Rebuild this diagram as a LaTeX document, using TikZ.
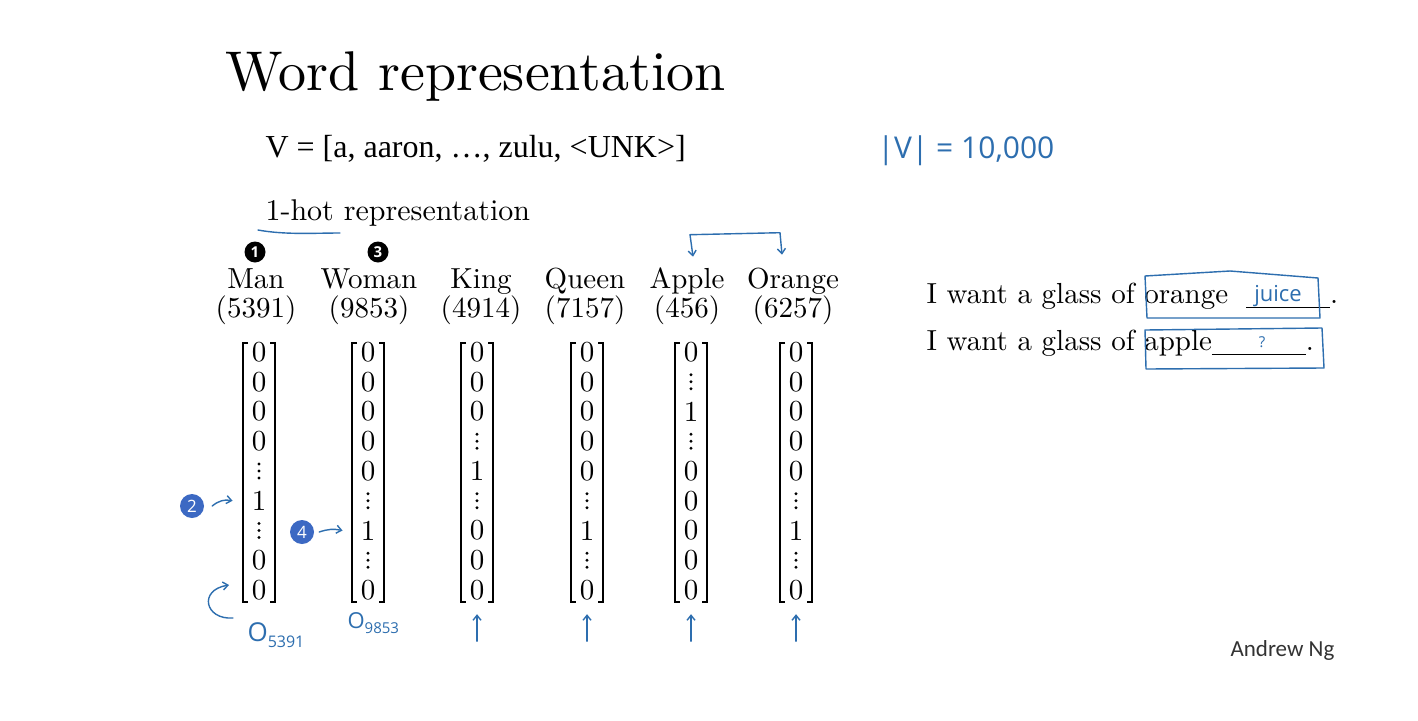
\documentclass[tikz,border=0pt]{standalone}
\usepackage{fontspec}
\setmainfont{lmroman10-regular}[Extension=.otf, BoldFont=lmroman10-bold, ItalicFont=lmroman10-italic]
\newfontfamily\timesfont{Liberation Serif}
\newfontfamily\handfont{Open Sans}
\newfontfamily\slidefont{Carlito}
\usepackage{xcolor}
\usetikzlibrary{arrows.meta}

\definecolor{ink}{RGB}{45,110,175}
\definecolor{dotblue}{RGB}{60,105,195}

\begin{document}
\begin{tikzpicture}[x=1pt, y=-1pt, >={Straight Barb[length=5pt,width=8pt]},
  word/.style={anchor=base, font=\fontsize{29}{35}\selectfont},
  entry/.style={inner sep=0pt, font=\fontsize{29}{35}\selectfont},
  bracket/.style={line width=1.8pt},
  pen/.style={draw=ink, line width=1.4pt, line cap=round, line join=round},
  hand/.style={text=ink, font=\handfont\fontsize{26}{30}\selectfont},
  blackdot/.style={circle, fill=black, text=white, inner sep=0pt, minimum size=21pt,
    font=\handfont\bfseries\fontsize{15}{15}\selectfont},
  bluedot/.style={circle, fill=dotblue, text=white, inner sep=0pt, minimum size=24pt,
    font=\handfont\fontsize{17}{17}\selectfont}]
\useasboundingbox[fill=white] (0,0) rectangle (1418,720);

% headings
\node[anchor=base west, font=\fontsize{56}{62}\selectfont] (title) at (222,90) {Word representation};
\node[anchor=base west, font=\timesfont\fontsize{32}{36}\selectfont] (vocab) at (262,157) {V = [a, aaron, …, zulu, <UNK>]};
\node[word, anchor=base west, font=\fontsize{30}{36}\selectfont] (onehot) at (262,220) {1-hot representation};
\draw[pen] (258,230) .. controls (285,235) and (315,233) .. (340,233);
\node[hand, anchor=base west, font=\handfont\fontsize{30}{34}\selectfont] (vsize) at (874,158) {|V| = 10,000};

% words and indices
\foreach \cx/\id/\w/\n in {256/man/Man/5391, 369/woman/Woman/9853, 481/king/King/4914,
    585/queen/Queen/7157, 687/apple/Apple/456, 793/orange/Orange/6257} {
  \node[word] (\id-w) at (\cx,288) {\w};
  \node[word] (\id-n) at (\cx,317) {(\n)};
}

% one-hot vectors (2 = vertical dots)
\foreach \cx/\id/\vals in {259/man/{0,0,0,0,2,1,2,0,0}, 368/woman/{0,0,0,0,0,2,1,2,0},
    477/king/{0,0,0,2,1,2,0,0,0}, 587/queen/{0,0,0,0,0,2,1,2,0},
    691/apple/{0,2,1,2,0,0,0,0,0}, 796/orange/{0,0,0,0,0,2,1,2,0}} {
  \draw[bracket] (\cx-11,343) -- (\cx-16,343) -- (\cx-16,602) -- (\cx-11,602);
  \draw[bracket] (\cx+11,343) -- (\cx+16,343) -- (\cx+16,602) -- (\cx+11,602);
  \foreach \e [count=\r] in \vals {
    \ifnum\e=2\relax
      \foreach \d in {-7,0,7}
        \fill (\cx,{352+(\r-1)*29.75+\d}) circle (1.6);
    \else
      \node[entry] (\id-\r) at (\cx,{352+(\r-1)*29.75}) {\e};
    \fi
  }
}

% numbered marks
\node[blackdot] (b1) at (255,252) {1};
\node[blackdot] (b3) at (378,252) {3};
\node[bluedot] (c2) at (192,506) {2};
\node[bluedot] (c4) at (302,532) {4};
\draw[pen,->] ([xshift=8pt]c2.east) to[bend left=25] ([xshift=-19pt]man-6.west);
\draw[pen,->] ([xshift=5pt]c4.east) to[bend left=15] ([xshift=-18pt]woman-7.west);

% handwritten notes under the vectors
\draw[pen,->] (233,618) .. controls (205,620) and (198,590) .. (229,585);
\node[hand, anchor=base west] (o1) at (244,641) {O\raisebox{-6pt}{\fontsize{16}{16}\selectfont 5391}};
\node[hand, anchor=base west, font=\handfont\fontsize{22}{26}\selectfont] (o2) at (344,628) {O\raisebox{-5pt}{\fontsize{15}{15}\selectfont 9853}};
\foreach \id in {king,queen,apple,orange}
  \draw[pen,->] ([yshift=-41pt]\id-9.south) -- ([yshift=-14pt]\id-9.south);
\draw[pen,<->] ([xshift=6pt,yshift=7pt]apple-w.north) -- ++(-3,-22) -- ++(90,-2) -- ++(2,22);

% sentences
\node[word, anchor=base west] (s1) at (923,303) {I want a glass of orange\hspace{18pt}\rule[-5pt]{84pt}{0.8pt}.};
\node[word, anchor=base west] (s2) at (923,350) {I want a glass of apple\rule[-5pt]{94pt}{0.8pt}.};
\node[hand, font=\handfont\fontsize{22}{26}\selectfont] (juice) at (1278,296) {juice};
\node[hand, font=\handfont\fontsize{15}{15}\selectfont] (blank) at (1262,342) {?};
\draw[pen] (1145,276) -- (1230,271) -- (1318,278) -- (1320,318) -- (1147,318) -- cycle;
\draw[pen] (1145,330) -- (1322,328) -- (1324,368) -- (1146,369) -- cycle;

\node[anchor=base west, text=black!80, font=\slidefont\fontsize{23}{26}\selectfont] (author) at (1227,656) {Andrew Ng};
\end{tikzpicture}
\end{document}
